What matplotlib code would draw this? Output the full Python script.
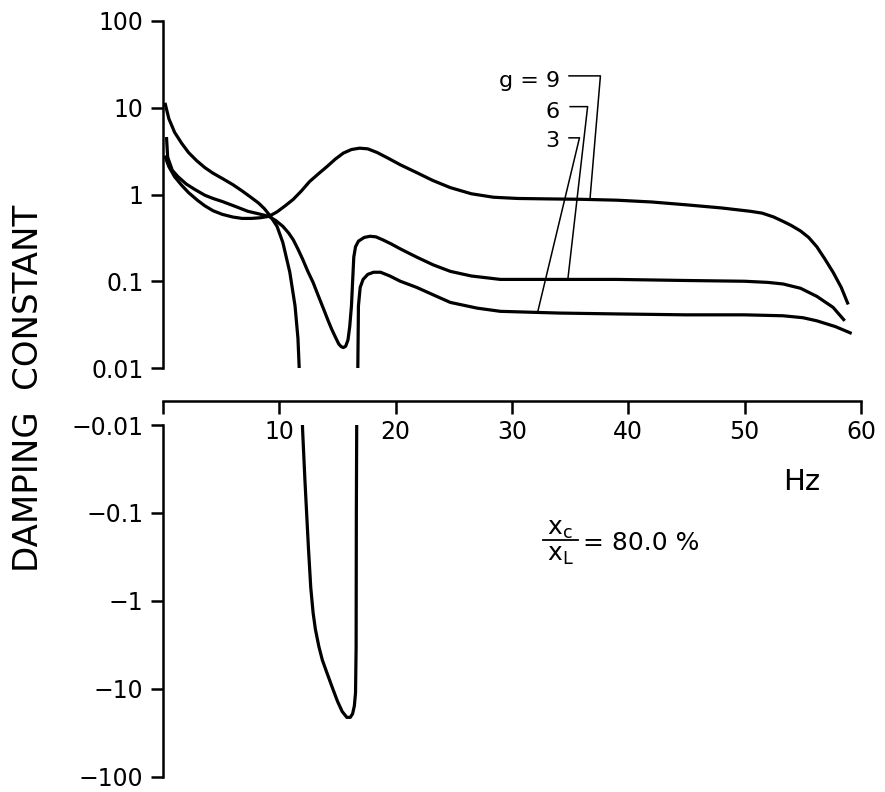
import numpy as np
import matplotlib
matplotlib.use("Agg")
import matplotlib.pyplot as plt
from matplotlib.lines import Line2D

plt.rcParams["font.family"] = ["DejaVu Sans"]
plt.rcParams["mathtext.fontset"] = "dejavusans"

# ---- damping constant vs frequency for three gains ----
freq_g9 = [0.15, 0.5, 1.0, 1.6, 2.2, 3.0, 3.6, 4.3, 5.1, 6.0, 6.8, 7.6, 8.4, 9.1,
           9.8, 10.5, 11.2, 11.9, 12.6, 13.4, 14.1, 14.8, 15.5, 16.2, 16.9, 17.6,
           18.4, 19.4, 20.4, 21.8, 23.2, 24.7, 26.5, 28.4, 30.5, 33.0, 36.0, 39.0,
           42.0, 45.0, 48.0, 50.5, 51.5, 52.5, 53.3, 54.0, 54.8, 55.5, 56.2, 56.9,
           57.6, 58.3, 58.9]
damp_g9 = [2.8, 2.1, 1.6, 1.28, 1.05, 0.85, 0.74, 0.65, 0.59, 0.55, 0.53, 0.53,
           0.54, 0.56, 0.63, 0.74, 0.88, 1.1, 1.41, 1.75, 2.1, 2.55, 3.0, 3.3,
           3.42, 3.36, 3.05, 2.6, 2.2, 1.79, 1.45, 1.2, 1.02, 0.93, 0.9, 0.89, 0.88,
           0.86, 0.82, 0.76, 0.7, 0.64, 0.61, 0.55, 0.49, 0.44, 0.38, 0.32, 0.25,
           0.18, 0.127, 0.085, 0.054]

freq_g6 = [0.3, 0.4, 0.8, 1.3, 2.0, 2.75, 3.6, 4.3, 5.1, 6.2, 7.3, 8.2, 9.1, 9.7,
           10.3, 10.8, 11.2, 11.6, 12.0, 12.45, 12.9, 13.35, 13.8, 14.2, 14.5,
           14.8, 15.1, 15.3, 15.5, 15.7, 15.9, 16.05, 16.2, 16.3, 16.4, 16.55,
           16.8, 17.3, 17.8, 18.3, 18.9, 19.6, 20.3, 21.0, 21.8, 23.2, 24.7, 26.5,
           29.0, 34.0, 39.0, 45.0, 50.0, 52.0, 53.3, 54.8, 56.2, 57.6, 58.6]
damp_g6 = [4.6, 2.7, 1.9, 1.6, 1.32, 1.14, 0.98, 0.9, 0.83, 0.73, 0.64, 0.6, 0.56,
           0.5, 0.43, 0.36, 0.30, 0.235, 0.18, 0.13, 0.097, 0.068, 0.048, 0.035,
           0.028, 0.023, 0.019, 0.0177, 0.0172, 0.0178, 0.021, 0.03, 0.052, 0.1,
           0.19, 0.25, 0.29, 0.32, 0.33, 0.325, 0.30, 0.27, 0.24, 0.215, 0.19,
           0.155, 0.13, 0.115, 0.105, 0.105, 0.105, 0.102, 0.1, 0.097, 0.093,
           0.083, 0.067, 0.05, 0.035]

freq_g3 = [0.17, 0.5, 1.0, 1.6, 2.2, 2.9, 3.6, 4.3, 5.1, 6.0, 6.8, 7.5, 8.2, 8.7,
           9.2, 9.8, 10.3, 10.9, 11.35, 11.6, 11.7, 11.8, 11.9, 12.0, 12.2, 12.5,
           12.7, 12.9, 13.1, 13.4, 13.7, 14.1, 14.6, 15.0, 15.4, 15.8, 16.1, 16.3,
           16.45, 16.55, 16.6, 16.62, 16.65, 16.68, 16.72, 16.75, 16.8, 16.95,
           17.2, 17.6, 18.1, 18.7, 19.5, 20.4, 21.8, 23.2, 24.7, 27.0, 29.0, 34.0,
           39.0, 45.0, 50.0, 53.3, 55.0, 56.2, 57.8, 59.2]
damp_g3 = [11.4, 7.5, 5.2, 3.9, 3.04, 2.45, 2.04, 1.76, 1.53, 1.3, 1.1, 0.94,
           0.8, 0.69, 0.57, 0.43, 0.28, 0.127, 0.052, 0.022, 0.0106, 0.004, -0.004,
           -0.0114, -0.0425, -0.247, -0.7, -1.35, -2.1, -3.3, -4.7, -6.6, -10.0,
           -13.8, -18.0, -21.0, -21.0, -19.1, -15.5, -11.0, -3.4, -0.1, -0.011,
           -0.004, 0.004, 0.011, 0.052, 0.085, 0.105, 0.12, 0.127, 0.127, 0.115,
           0.1, 0.085, 0.07, 0.057, 0.049, 0.045, 0.043, 0.042, 0.041, 0.041,
           0.040, 0.038, 0.035, 0.03, 0.025]

series = [("9", freq_g9, damp_g9), ("6", freq_g6, damp_g6), ("3", freq_g3, damp_g3)]

x_ticks = [0, 10, 20, 30, 40, 50, 60]
x_tick_labels = ["", "10", "20", "30", "40", "50", "60"]
pos_ticks = [0.01, 0.1, 1, 10, 100]
pos_tick_labels = ["0.01", "0.1", "1", "10", "100"]
neg_tick_labels = ["\u22120.01", "\u22120.1", "\u22121", "\u221210", "\u2212100"]

# ---- layout (pixels) ----
W, H = 885, 792
fig = plt.figure(figsize=(W / 100, H / 100), dpi=100)


def fx(px):
    return px / W


def fy(py):
    return 1 - py / H


LEFT, RIGHT = 163, 861
width = fx(RIGHT) - fx(LEFT)
LW_AX = 1.8
LW_CURVE = 2.3
TICK_LEN = 9
TICK_FS = 17

ax_pos = fig.add_axes([fx(LEFT), fy(368), width, fy(21) - fy(368)])
ax_neg = fig.add_axes([fx(LEFT), fy(777), width, fy(425) - fy(777)])
ax_x = fig.add_axes([fx(LEFT), fy(401), width, 0.0005])

for ax in (ax_pos, ax_neg, ax_x):
    ax.set_xlim(0, 60)
    ax.patch.set_visible(False)
    for s in ax.spines.values():
        s.set_visible(False)
        s.set_linewidth(LW_AX)

# upper half: positive damping on a log scale
ax_pos.set_yscale("log")
ax_pos.set_ylim(0.01, 100)
ax_pos.spines["left"].set_visible(True)
ax_pos.set_yticks(pos_ticks)
ax_pos.set_yticklabels(pos_tick_labels)
ax_pos.minorticks_off()
ax_pos.set_xticks([])

# lower half: negative damping, magnitude on an inverted log scale
ax_neg.set_yscale("log")
ax_neg.set_ylim(100, 0.01)
ax_neg.spines["left"].set_visible(True)
ax_neg.set_yticks(pos_ticks)
ax_neg.set_yticklabels(neg_tick_labels)
ax_neg.minorticks_off()
ax_neg.set_xticks([])

for ax in (ax_pos, ax_neg):
    ax.tick_params(axis="y", which="major", direction="out", length=TICK_LEN,
                   width=LW_AX, labelsize=TICK_FS, pad=5)
    ax.tick_params(axis="y", which="minor", left=False)

# frequency axis between the halves
ax_x.set_yticks([])
ax_x.spines["bottom"].set_visible(True)
ax_x.set_xticks(x_ticks)
ax_x.set_xticklabels(x_tick_labels)
ax_x.tick_params(axis="x", direction="out", length=TICK_LEN, width=LW_AX,
                 labelsize=TICK_FS, pad=5)

curves = {}
for name, f, d in series:
    f = np.asarray(f, float)
    d = np.asarray(d, float)
    curves[name] = (f, d)
    pos = np.where(d > 0, d, np.nan)
    neg = np.where(d < 0, -d, np.nan)
    ax_pos.plot(f, pos, color="black", lw=LW_CURVE, solid_capstyle="butt",
                solid_joinstyle="round")
    if np.any(d < 0):
        ax_neg.plot(f, neg, color="black", lw=LW_CURVE, solid_capstyle="butt",
                    solid_joinstyle="round")

# gain labels with leader lines to their curves
labels = [
    # text, curve, baseline, leader y, leader start x, leader corner x, curve x
    ("g = 9", "9", 17.5, 23.3, 34.9, 37.6, 36.7),
    ("6", "6", 7.7, 10.3, 35.0, 36.5, 34.8),
    ("3", "3", 3.5, 4.5, 34.9, 35.8, 32.2),
]
for text, key, base_y, lead_y, x0, x1, xc in labels:
    ax_pos.text(34.1, base_y, text, ha="right", va="baseline", fontsize=16)
    f, d = curves[key]
    mask = d > 0
    yc = 10 ** np.interp(xc, f[mask], np.log10(d[mask]))
    ax_pos.plot([x0, x1, xc], [lead_y, lead_y, yc], color="black", lw=1.1,
                clip_on=False)

# axis titles
fig.text(fx(29), fy(388), "DAMPING  CONSTANT", rotation=90, ha="center",
         va="center", fontsize=24.5)
fig.text(fx(802), fy(482), "Hz", ha="center", va="center", fontsize=21)

# reactance ratio note
fig.text(fx(560), fy(535), r"$\mathrm{x_c}$", ha="center", va="baseline",
         fontsize=18)
fig.text(fx(560), fy(561), r"$\mathrm{x_L}$", ha="center", va="baseline",
         fontsize=18)
fig.add_artist(Line2D([fx(543), fx(578)], [fy(540), fy(540)], color="black",
                      lw=1.3, transform=fig.transFigure))
fig.text(fx(583), fy(550), "= 80.0 %", ha="left", va="baseline", fontsize=18)

fig.savefig("out.png", dpi=100)
